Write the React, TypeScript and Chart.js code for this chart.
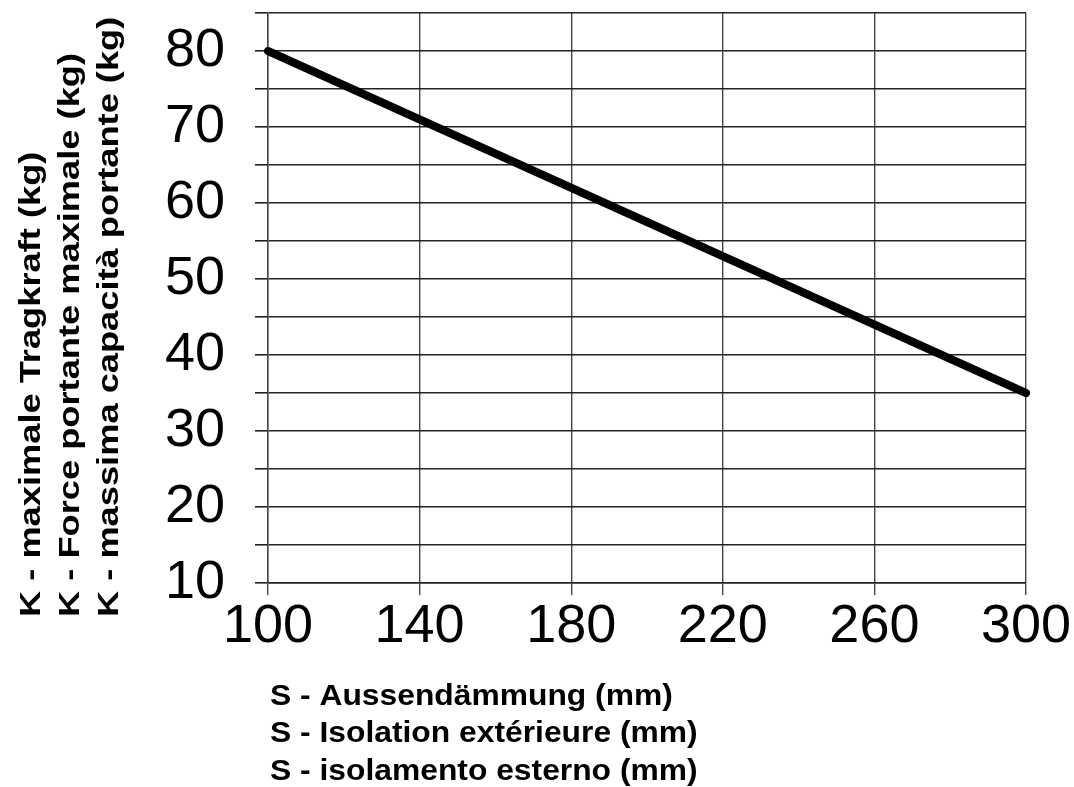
import React, { useEffect, useRef } from "react";
import { Chart, registerables } from "chart.js";

Chart.register(...registerables);

// Data
const insulationMm = [100, 300];
const maxLoadKg = [80, 35];
const xTickValues = [100, 140, 180, 220, 260, 300];
const yTickValues = [10, 15, 20, 25, 30, 35, 40, 45, 50, 55, 60, 65, 70, 75, 80, 85];
const yLabeled = [10, 20, 30, 40, 50, 60, 70, 80];
const yTitleLines = [
  "K - maximale Tragkraft (kg)",
  "K - Force portante maximale (kg)",
  "K - massima capacità portante (kg)",
];
const xTitleLines = [
  "S - Aussendämmung (mm)",
  "S - Isolation extérieure (mm)",
  "S - isolamento esterno (mm)",
];

const FONT = '"Liberation Sans", Arial, Helvetica, sans-serif';

const titlesPlugin = {
  id: "multiTitles",
  afterDraw(chart: any) {
    const ctx = chart.ctx as CanvasRenderingContext2D;
    const area = chart.chartArea;
    ctx.save();
    ctx.fillStyle = "#000";
    ctx.textBaseline = "alphabetic";
    ctx.textAlign = "left";
    // Y title: three rotated lines, starting near the bottom
    ctx.font = `bold 29px ${FONT}`;
    const yBase = [40, 79, 118];
    yTitleLines.forEach((t, i) => {
      ctx.save();
      ctx.translate(yBase[i], area.bottom + 34);
      ctx.rotate(-Math.PI / 2);
      ctx.scale(1.25, 1);
      ctx.fillText(t, 0, 0);
      ctx.restore();
    });
    // X title: three lines, left aligned with the plot's left edge
    ctx.font = `bold 30px ${FONT}`;
    const xBase = [705, 742, 780];
    xTitleLines.forEach((t, i) => {
      ctx.save();
      ctx.translate(area.left + 2, xBase[i]);
      ctx.scale(1.06, 1);
      ctx.fillText(t, 0, 0);
      ctx.restore();
    });
    ctx.restore();
  },
};

export default function App() {
  const ref = useRef<HTMLCanvasElement | null>(null);

  useEffect(() => {
    if (!ref.current) return;
    const chart = new Chart(ref.current, {
      type: "line",
      data: {
        datasets: [
          {
            data: insulationMm.map((x, i) => ({ x, y: maxLoadKg[i] })),
            borderColor: "#000",
            borderWidth: 8,
            borderCapStyle: "round",
            pointRadius: 0,
            fill: false,
            tension: 0,
            clip: false as any,
          },
        ],
      },
      options: {
        animation: false,
        responsive: false,
        devicePixelRatio: 1,
        layout: { padding: { left: 0, top: 13, right: 48, bottom: 0 } },
        plugins: {
          legend: { display: false },
          tooltip: { enabled: false },
          title: { display: false },
        },
        scales: {
          x: {
            type: "linear",
            min: 100,
            max: 300,
            afterBuildTicks: (s: any) => {
              s.ticks = xTickValues.map((v) => ({ value: v }));
            },
            afterFit: (s: any) => {
              s.height = 204;
              s.paddingLeft = 0;
              s.paddingRight = 0;
            },
            grid: {
              color: "#444",
              lineWidth: 1.4,
              tickLength: 12,
              drawTicks: true,
            },
            border: { display: true, color: "#222", width: 1.6 },
            ticks: {
              color: "#000",
              padding: 0,
              maxRotation: 0,
              autoSkip: false,
              font: { family: FONT, size: 54 },
              callback: (v: any) => String(v),
            },
          },
          y: {
            type: "linear",
            min: 10,
            max: 85,
            afterBuildTicks: (s: any) => {
              s.ticks = yTickValues.map((v) => ({ value: v }));
            },
            afterFit: (s: any) => {
              s.width = 268;
              s.paddingTop = 0;
              s.paddingBottom = 0;
            },
            grid: {
              color: "#222",
              lineWidth: 1.6,
              tickLength: 13,
              drawTicks: true,
            },
            border: { display: true, color: "#444", width: 1.4 },
            ticks: {
              color: "#000",
              padding: 30,
              autoSkip: false,
              font: { family: FONT, size: 54 },
              callback: (v: any) => (yLabeled.includes(Number(v)) ? String(v) : ""),
            },
          },
        },
      },
      plugins: [titlesPlugin],
    } as any);
    return () => chart.destroy();
  }, []);

  return (
    <div style={{ position: "fixed", left: 0, top: 0, width: 1074, height: 787, background: "#fff" }}>
      <canvas ref={ref} width={1074} height={787} style={{ width: 1074, height: 787, display: "block" }} />
    </div>
  );
}
